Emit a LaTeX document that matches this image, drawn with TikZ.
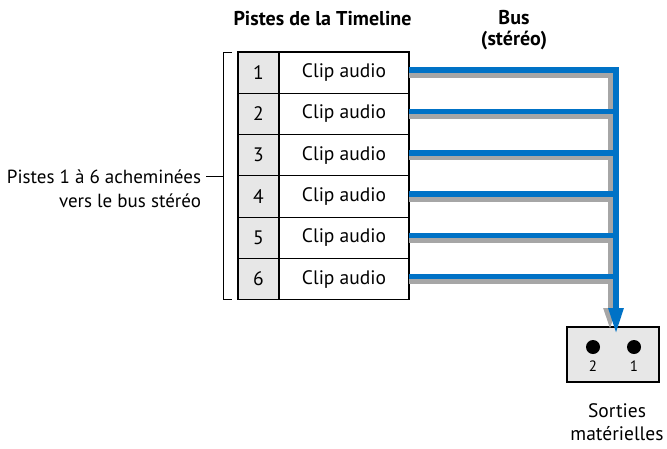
\documentclass[tikz,border=0pt]{standalone}
\usepackage{fontspec}
\setmainfont{PT Sans}
\usepackage{xcolor}
\usetikzlibrary{positioning,arrows.meta}
\definecolor{busblue}{RGB}{0,114,198}
\definecolor{shadowgray}{RGB}{166,166,166}
\definecolor{cellgray}{RGB}{231,231,231}

\begin{document}
\begin{tikzpicture}[x=1pt,y=-1pt]
\tikzstyle{every node}+=[inner sep=0pt, outer sep=0pt, font=\fontsize{19.5}{23}\selectfont]
\tikzstyle{numcell}=[draw=black, line width=1.1pt, fill=cellgray, minimum width=41pt, minimum height=41.3pt]
\tikzstyle{clipcell}=[draw=black, line width=1.1pt, fill=white, minimum width=130pt, minimum height=41.3pt]
\tikzstyle{busline}=[draw=busblue, line width=5.5pt]
\tikzstyle{shadowline}=[draw=shadowgray, line width=5pt]
\tikzstyle{header}=[font=\fontsize{20}{21}\selectfont\bfseries, align=center]
\useasboundingbox (0,0) rectangle (667,448);
% headers
\node[header] (trackhead) at (322.5,19) {Pistes de la Timeline};
\node[header] (bushead) at (514,30) {Bus\\(stéréo)};
% tracks
\foreach \i in {1,...,6} {
  \node[numcell] (num\i) at (258.5,31.35+41.3*\i) {\i};
  \node[clipcell, right=0pt of num\i] (clip\i) {Clip audio};
  \coordinate (b\i) at ([yshift=2.5pt]clip\i.east);
  \coordinate (g\i) at ([yshift=-2.5pt]clip\i.east);
}
% bracket
\coordinate (brmid) at (223,176);
\draw[line width=1pt] ([xshift=-6pt]num1.north west) -- (brmid |- num1.north) -- (brmid |- num6.south) -- ([xshift=-6pt]num6.south west);
\draw[line width=1pt] (brmid) -- ++(-17,0);
\node[anchor=east, align=right, font=\fontsize{19}{23.5}\selectfont] (routed) at (201,189) {Pistes 1 à 6 acheminées\\vers le bus stéréo};
% output box
\node[draw=black, line width=1.1pt, fill=cellgray, minimum width=92pt, minimum height=55pt] (outs) at (613,354.5) {};
\node[circle, fill=black, minimum size=14pt] (jack2) at (593,347) {};
\node[circle, fill=black, minimum size=14pt] (jack1) at (634,347) {};
\node[font=\fontsize{15}{16}\selectfont] (lab2) at (593,366) {2};
\node[font=\fontsize{15}{16}\selectfont] (lab1) at (634,366) {1};
\node[align=center] (outlabel) at (617,422) {Sorties\\matérielles};
% bus
\coordinate (busEnd) at (616,334);
\coordinate (shadowEnd) at (610,330);
\foreach \i in {2,...,6}
  \draw[shadowline] (g\i) -- (g\i -| shadowEnd);
\draw[shadowline, -{Triangle[length=22pt,width=12pt]}] (g1) -| (shadowEnd);
\foreach \i in {2,...,6}
  \draw[busline] (b\i) -- (b\i -| busEnd);
\draw[busline, -{Triangle[length=26pt,width=14pt]}] (b1) -| (busEnd);
\end{tikzpicture}
\end{document}
